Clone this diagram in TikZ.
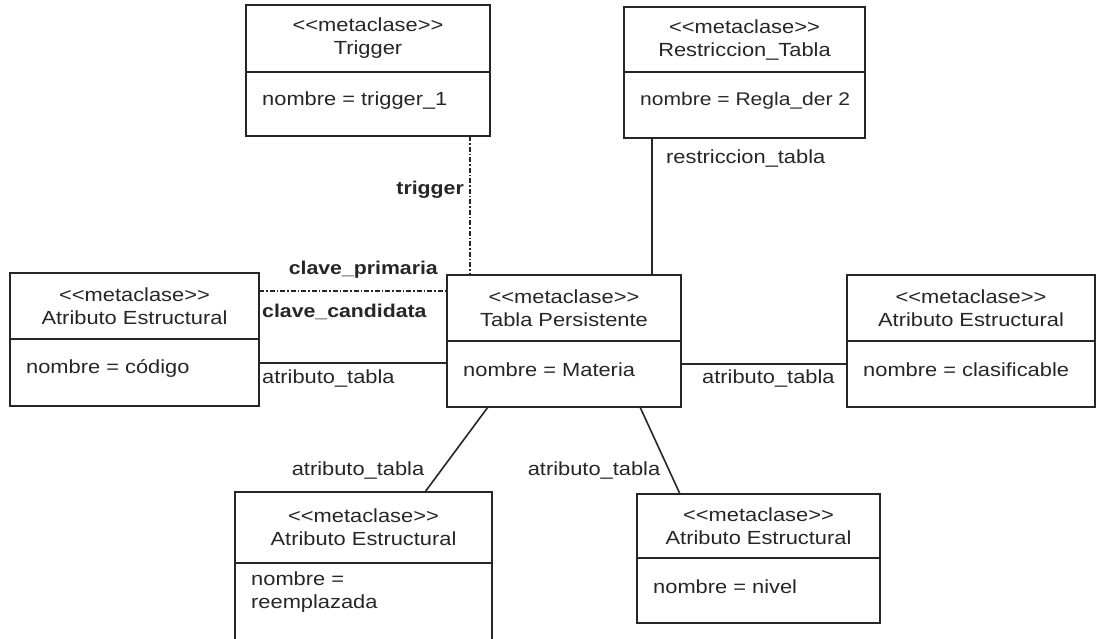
\documentclass[tikz,border=0pt]{standalone}
\usepackage{fontspec}
\setmainfont{Liberation Sans}[FakeStretch=1.15]
\newcommand\metastereo{<{}<metaclase>{}>}
\begin{document}
\begin{tikzpicture}[x=1pt,y=-1pt,
  ink/.style={draw=black!85},
  classbox/.style={ink,line width=1.7pt,rectangle,inner sep=0pt,outer sep=0pt,anchor=north west},
  divider/.style={ink,line width=1.3pt},
  headtxt/.style={align=center,text=black!85,font=\fontsize{19}{23}\selectfont,inner sep=0pt},
  attrtxt/.style={align=left,text=black!85,font=\fontsize{19}{23}\selectfont,inner sep=0pt,anchor=west},
  assoc/.style={ink,line width=1.6pt},
  assocdd/.style={ink,line width=1.3pt,dash pattern=on 5pt off 2pt on 1.5pt off 2pt},
  lbl/.style={text=black!85,font=\fontsize{19}{23}\selectfont,inner sep=0pt},
  blbl/.style={text=black!85,font=\bfseries\fontsize{18.5}{23}\selectfont,inner sep=0pt}]
\clip (0,0) rectangle (1100,638);
\useasboundingbox (0,0) rectangle (1100,638);
\fill[white] (0,0) rectangle (1100,638);

% class box: name, x1, y1, x2, y divider, y2, header, attribute
\newcommand\classbox[8]{%
  \node[classbox,minimum width={#4-#2},minimum height={#6-#3}] (#1) at (#2,#3) {};
  \draw[divider] (#2,#5) -- (#4,#5);
  \node[headtxt] (#1-h) at ({(#2+#4)/2},{(#3+#5)/2}) {#7};
  \node[attrtxt] (#1-a) at ({#2+16},{#5+29}) {#8};
}

\classbox{trig}{246}{5}{490}{72}{136}{\metastereo\\Trigger}{nombre = trigger\_1}
\classbox{rest}{624}{7}{865}{72}{138}{\metastereo\\Restriccion\_Tabla}{\fontsize{18.3}{22}\selectfont nombre = Regla\_der 2}
\classbox{left}{10}{273}{259}{339}{406}{\metastereo\\Atributo Estructural}{nombre = código}
\classbox{cen}{447}{275}{681}{341}{407}{\metastereo\\Tabla Persistente}{nombre = Materia}
\classbox{right}{847}{275}{1095}{341}{407}{\metastereo\\Atributo Estructural}{nombre = clasificable}
\classbox{br}{637}{494}{880}{558}{623}{\metastereo\\Atributo Estructural}{nombre = nivel}
\node[classbox,minimum width=257,minimum height=170] (bl) at (235,492) {};
\draw[divider] (235,563) -- (492,563);
\node[headtxt] (bl-h) at (363.5,527.5) {\metastereo\\Atributo Estructural};
\node[attrtxt,anchor=north west] (bl-a) at (251,572) {nombre =\\reemplazada};

% attachment points on the box borders
\coordinate (xtrig) at (470,0);
\coordinate (xrest) at (652,0);
\coordinate (yprim) at (0,291);
\coordinate (yatl) at (0,363);
\coordinate (yatr) at (0,364);
\coordinate (xbl1) at (488,0);
\coordinate (xbl2) at (425,0);
\coordinate (xbr1) at (640,0);
\coordinate (xbr2) at (680,0);

% associations
\draw[assocdd] (trig.south -| xtrig) -- (cen.north -| xtrig);
\draw[assoc] (rest.south -| xrest) -- (cen.north -| xrest);
\draw[assocdd] (left.east |- yprim) -- (cen.west |- yprim);
\draw[assoc] (left.east |- yatl) -- (cen.west |- yatl);
\draw[assoc] (cen.east |- yatr) -- (right.west |- yatr);
\draw[assoc] (cen.south -| xbl1) -- (bl.north -| xbl2);
\draw[assoc] (cen.south -| xbr1) -- (br.north -| xbr2);

% association labels
\node[blbl,anchor=east] (l-trig) at (464,190) {trigger};
\node[lbl,anchor=west] (l-rest) at (666,158) {restriccion\_tabla};
\node[blbl,anchor=east] (l-prim) at (438,270) {clave\_primaria};
\node[blbl,anchor=west] (l-cand) at (262,312) {clave\_candidata};
\node[lbl,anchor=west] (l-atl) at (262,378) {atributo\_tabla};
\node[lbl,anchor=west] (l-atr) at (702,378) {atributo\_tabla};
\node[lbl] (l-bl) at (358,470) {atributo\_tabla};
\node[lbl] (l-br) at (594,470) {atributo\_tabla};
\end{tikzpicture}
\end{document}
